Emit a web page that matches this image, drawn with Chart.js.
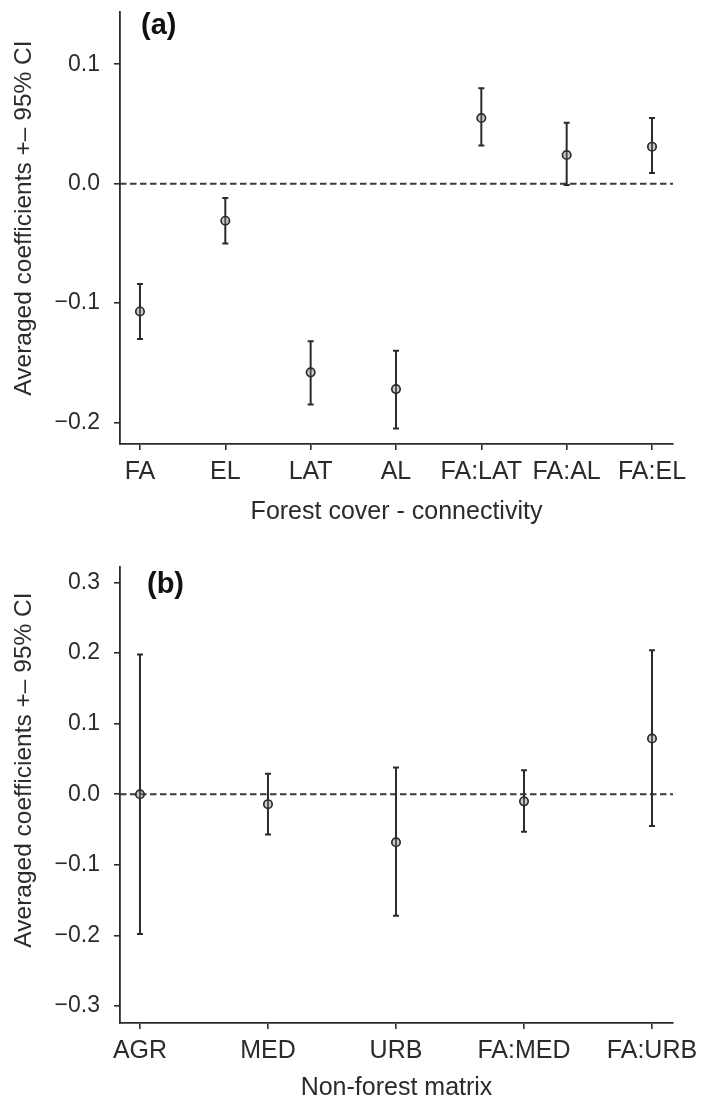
<!DOCTYPE html>
<html lang="en">
  <head>
    <meta charset="utf-8" />
    <title>Averaged coefficients</title>
    <style>
      html, body { margin: 0; padding: 0; background: #fff; }
      .panel { position: absolute; left: 0; }
      #panelA { top: 0; }
      #panelB { top: 549px; }
    </style>
  </head>
  <body>
    <canvas id="panelA" class="panel" width="702" height="549"></canvas>
    <canvas id="panelB" class="panel" width="702" height="550"></canvas>
    <script src="https://cdn.jsdelivr.net/npm/chart.js"></script>
    <script>
      // (a) forest cover - connectivity
      const forestLabels = ["FA", "EL", "LAT", "AL", "FA:LAT", "FA:AL", "FA:EL"];
      const forestEst = [-0.107, -0.031, -0.158, -0.172, 0.055, 0.024, 0.031];
      const forestLow = [-0.130, -0.050, -0.185, -0.205, 0.032, -0.001, 0.009];
      const forestHigh = [-0.084, -0.012, -0.132, -0.140, 0.080, 0.051, 0.055];
      const forestTicks = [-0.2, -0.1, 0.0, 0.1];

      // (b) non-forest matrix
      const matrixLabels = ["AGR", "MED", "URB", "FA:MED", "FA:URB"];
      const matrixEst = [0.0, -0.014, -0.068, -0.010, 0.079];
      const matrixLow = [-0.198, -0.057, -0.172, -0.053, -0.045];
      const matrixHigh = [0.198, 0.029, 0.038, 0.034, 0.204];
      const matrixTicks = [-0.3, -0.2, -0.1, 0.0, 0.1, 0.2, 0.3];

      const FONT = "'Liberation Sans', Arial, Helvetica, sans-serif";
      const INK = "#2b2b2b";

      function fmt(v) {
        const s = Math.abs(v).toFixed(1);
        return v < -1e-9 ? "\u2212" + s : s;
      }

      // error bars, zero reference line and the text around the plot
      const extras = {
        id: "extras",
        beforeDatasetsDraw(chart, args, opts) {
          const { ctx, chartArea } = chart;
          const xs = chart.scales.x;
          const ys = chart.scales.y;
          ctx.save();
          // dashed line at zero
          ctx.strokeStyle = "#3a3a3a";
          ctx.lineWidth = 2;
          ctx.setLineDash([6.5, 3.5]);
          ctx.beginPath();
          const y0 = ys.getPixelForValue(0);
          ctx.moveTo(chartArea.left, y0);
          ctx.lineTo(chartArea.right, y0);
          ctx.stroke();
          ctx.setLineDash([]);
          // confidence intervals
          ctx.strokeStyle = INK;
          ctx.lineWidth = 2;
          opts.low.forEach((lo, i) => {
            const x = xs.getPixelForValue(i);
            const yl = ys.getPixelForValue(lo);
            const yh = ys.getPixelForValue(opts.high[i]);
            ctx.beginPath();
            ctx.moveTo(x, yl);
            ctx.lineTo(x, yh);
            ctx.moveTo(x - 3, yl);
            ctx.lineTo(x + 3, yl);
            ctx.moveTo(x - 3, yh);
            ctx.lineTo(x + 3, yh);
            ctx.stroke();
          });
          ctx.restore();
        },
        afterDraw(chart, args, opts) {
          const { ctx, chartArea } = chart;
          ctx.save();
          ctx.fillStyle = "#111";
          ctx.font = "bold 29px " + FONT;
          ctx.textAlign = "left";
          ctx.textBaseline = "alphabetic";
          ctx.fillText(opts.tag, opts.tagX, opts.tagY);

          ctx.fillStyle = INK;
          ctx.font = "25px " + FONT;
          ctx.textAlign = "center";
          ctx.fillText(opts.xTitle, (chartArea.left + chartArea.right) / 2, opts.xTitleY);

          ctx.translate(opts.yTitleX, opts.yTitleY);
          ctx.rotate(-Math.PI / 2);
          ctx.textBaseline = "middle";
          ctx.font = "24.5px " + FONT;
          ctx.fillText("Averaged coefficients +\u2013 95% CI", 0, 0);
          ctx.restore();
        },
      };

      function makePanel(id, p) {
        const points = p.est.map((v, i) => ({ x: i, y: v }));
        const config = {
          type: "scatter",
          data: {
            datasets: [
              {
                data: points,
                pointRadius: 4.2,
                pointHoverRadius: 4.2,
                pointBorderWidth: 1.7,
                borderColor: INK,
                backgroundColor: "rgba(130, 130, 130, 0.4)",
              },
            ],
          },
          plugins: [extras],
          options: {
            responsive: false,
            animation: false,
            events: [],
            layout: { padding: { top: p.top, right: 29, bottom: 0, left: 0 } },
            plugins: {
              legend: { display: false },
              tooltip: { enabled: false },
              extras: {
                low: p.low,
                high: p.high,
                tag: p.tag,
                tagX: p.tagX,
                tagY: p.tagY,
                xTitle: p.xTitle,
                xTitleY: p.xTitleY,
                yTitleX: 24,
                yTitleY: p.yTitleY,
              },
            },
            scales: {
              x: {
                type: "linear",
                min: p.xMin,
                max: p.xMax,
                afterBuildTicks: (s) => {
                  s.ticks = p.labels.map((l, i) => ({ value: i }));
                },
                afterFit: (s) => {
                  s.height = p.xHeight;
                  s.paddingLeft = 0;
                  s.paddingRight = 0;
                },
                border: { display: true, color: INK, width: 1.8 },
                grid: { drawOnChartArea: false, drawTicks: true, tickLength: 6, color: INK, lineWidth: 1.6 },
                ticks: {
                  autoSkip: false,
                  maxRotation: 0,
                  padding: 7,
                  color: INK,
                  font: { family: FONT, size: 25 },
                  callback: (v) => p.labels[v],
                },
              },
              y: {
                type: "linear",
                min: p.yMin,
                max: p.yMax,
                afterBuildTicks: (s) => {
                  s.ticks = p.yTicks.map((v) => ({ value: v }));
                },
                afterFit: (s) => {
                  s.width = 120;
                  s.paddingTop = 0;
                  s.paddingBottom = 0;
                },
                border: { display: true, color: INK, width: 1.8 },
                grid: { drawOnChartArea: false, drawTicks: true, tickLength: 6, color: INK, lineWidth: 1.6 },
                ticks: {
                  padding: 14,
                  color: INK,
                  font: { family: FONT, size: 23 },
                  callback: (v) => fmt(v),
                },
              },
            },
          },
        };
        return new Chart(document.getElementById(id), config);
      }

      makePanel("panelA", {
        labels: forestLabels,
        est: forestEst,
        low: forestLow,
        high: forestHigh,
        yTicks: forestTicks,
        xMin: -0.234,
        xMax: 6.246,
        yMin: -0.218,
        yMax: 0.1438,
        top: 12,
        xHeight: 105,
        tag: "(a)",
        tagX: 141,
        tagY: 34,
        xTitle: "Forest cover - connectivity",
        xTitleY: 519,
        yTitleY: 218,
      });

      makePanel("panelB", {
        labels: matrixLabels,
        est: matrixEst,
        low: matrixLow,
        high: matrixHigh,
        yTicks: matrixTicks,
        xMin: -0.156,
        xMax: 4.164,
        yMin: -0.324,
        yMax: 0.322,
        top: 18,
        xHeight: 76,
        tag: "(b)",
        tagX: 147,
        tagY: 44,
        xTitle: "Non-forest matrix",
        xTitleY: 546,
        yTitleY: 221,
      });
    </script>
  </body>
</html>
